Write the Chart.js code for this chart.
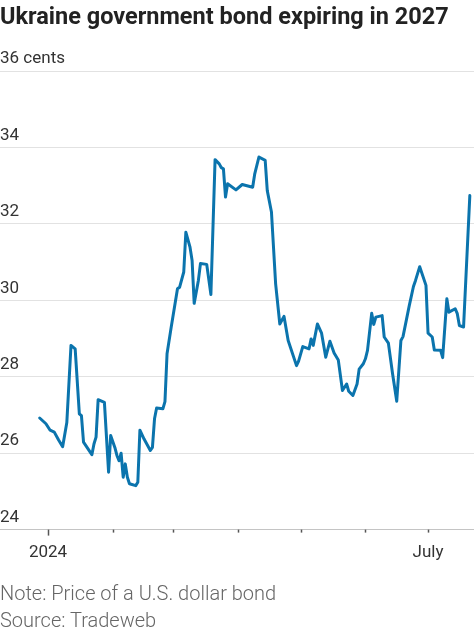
<!DOCTYPE html>
<html>
<head>
<meta charset="utf-8">
<title>Ukraine government bond expiring in 2027</title>
<script src="https://cdn.jsdelivr.net/npm/chart.js@4.4.1/dist/chart.umd.min.js"></script>
<style>
  html, body { margin: 0; padding: 0; background: #fff; }
  body { width: 474px; height: 632px; position: relative; overflow: hidden; font-family: Roboto, "Noto Sans", sans-serif; }
  #title { position: absolute; left: 0; top: 1px; font-size: 23.5px; font-weight: 700; line-height: 30px; color: #222; white-space: nowrap; }
  .foot { position: absolute; left: 0; font-size: 20px; font-weight: 300; line-height: 20px; color: #666; white-space: nowrap; }
  #wrap { position: absolute; left: 0; top: 0; width: 474px; height: 632px; }
</style>
</head>
<body>
<div id="wrap"><canvas id="chartCanvas"></canvas></div>
<div id="title">Ukraine government bond expiring in 2027</div>
<div class="foot" style="top:583px">Note: Price of a U.S. dollar bond</div>
<div class="foot" style="top:610px">Source: Tradeweb</div>
<script>
// Bond price in cents on the dollar
const dates = [
  '2023-12-28', '2023-12-31', '2024-01-02', '2024-01-04', '2024-01-06', '2024-01-08', '2024-01-10', '2024-01-12',
  '2024-01-14', '2024-01-16', '2024-01-17', '2024-01-18', '2024-01-22', '2024-01-23', '2024-01-24', '2024-01-25',
  '2024-01-28', '2024-01-30', '2024-01-31', '2024-02-02', '2024-02-03', '2024-02-04', '2024-02-05', '2024-02-06',
  '2024-02-07', '2024-02-08', '2024-02-09', '2024-02-12', '2024-02-13', '2024-02-14', '2024-02-16', '2024-02-19',
  '2024-02-20', '2024-02-21', '2024-02-22', '2024-02-25', '2024-02-26', '2024-02-27', '2024-02-29', '2024-03-03',
  '2024-03-04', '2024-03-06', '2024-03-07', '2024-03-09', '2024-03-10', '2024-03-11', '2024-03-13', '2024-03-14',
  '2024-03-17', '2024-03-19', '2024-03-21', '2024-03-23', '2024-03-24', '2024-03-25', '2024-03-26', '2024-03-27',
  '2024-03-31', '2024-04-03', '2024-04-08', '2024-04-09', '2024-04-11', '2024-04-14', '2024-04-15', '2024-04-17',
  '2024-04-19', '2024-04-21', '2024-04-23', '2024-04-25', '2024-04-29', '2024-04-30', '2024-05-02', '2024-05-05',
  '2024-05-06', '2024-05-07', '2024-05-09', '2024-05-11', '2024-05-13', '2024-05-15', '2024-05-17', '2024-05-19',
  '2024-05-21', '2024-05-23', '2024-05-24', '2024-05-26', '2024-05-28', '2024-05-29', '2024-05-31', '2024-06-01',
  '2024-06-02', '2024-06-04', '2024-06-05', '2024-06-06', '2024-06-09', '2024-06-10', '2024-06-12', '2024-06-14',
  '2024-06-16', '2024-06-18', '2024-06-19', '2024-06-22', '2024-06-24', '2024-06-25', '2024-06-27', '2024-06-30',
  '2024-07-01', '2024-07-03', '2024-07-04', '2024-07-07', '2024-07-08', '2024-07-10', '2024-07-11', '2024-07-14',
  '2024-07-15', '2024-07-16', '2024-07-18', '2024-07-21'
];
const prices = [
  26.92, 26.77, 26.60, 26.55, 26.35, 26.17, 26.80, 28.82,
  28.73, 27.03, 26.98, 26.29, 25.96, 26.24, 26.42, 27.40,
  27.33, 25.50, 26.46, 26.15, 25.94, 25.80, 26.00, 25.37,
  25.72, 25.37, 25.20, 25.15, 25.24, 26.60, 26.37, 26.07,
  26.15, 26.90, 27.18, 27.16, 27.35, 28.60, 29.30, 30.30,
  30.34, 30.74, 31.78, 31.39, 31.04, 29.92, 30.52, 30.96,
  30.94, 30.15, 33.68, 33.57, 33.47, 33.44, 32.70, 33.05,
  32.89, 33.03, 32.96, 33.31, 33.75, 33.66, 32.87, 32.31,
  30.43, 29.38, 29.58, 28.95, 28.29, 28.41, 28.79, 28.73,
  28.99, 28.82, 29.38, 29.14, 28.51, 28.93, 28.62, 28.44,
  27.64, 27.81, 27.62, 27.51, 27.81, 28.20, 28.34, 28.47,
  28.69, 29.66, 29.37, 29.56, 29.60, 29.04, 28.88, 28.08,
  27.36, 28.95, 29.05, 29.86, 30.36, 30.52, 30.88, 30.39,
  29.14, 29.04, 28.70, 28.69, 28.50, 30.04, 29.69, 29.78,
  29.65, 29.34, 29.30, 32.74
];

// axis ticks
const xTickDates = ['2024-01-01', '2024-02-01', '2024-03-01', '2024-04-01', '2024-05-01', '2024-06-01', '2024-07-01'];
const xTickLabels = ['2024', '', '', '', '', '', 'July'];
const yTicks = [24, 26, 28, 30, 32, 34, 36];
const xRange = ['2023-12-09', '2024-07-23'];

const DAY = 86400000;
const ORIGIN = Date.UTC(2024, 0, 1);

// days since Jan 1 2024
function dayOf(s) {
  const p = s.split('-').map(Number);
  return (Date.UTC(p[0], p[1] - 1, p[2]) - ORIGIN) / DAY;
}

const tickDays = xTickDates.map(dayOf);
const points = dates.map((d, i) => ({ x: dayOf(d), y: prices[i] }));

// short tick marks under the baseline, longer one at the year start
const tickMarks = {
  id: 'tickMarks',
  afterDraw(chart) {
    const ctx = chart.ctx;
    const x = chart.scales.x;
    const bottom = chart.chartArea.bottom;
    ctx.save();
    ctx.strokeStyle = '#555';
    ctx.lineWidth = 1.5;
    tickDays.forEach((d, i) => {
      const px = Math.round(x.getPixelForValue(d)) + 0.5;
      ctx.beginPath();
      ctx.moveTo(px, bottom);
      ctx.lineTo(px, bottom + (i === 0 ? 6 : 3));
      ctx.stroke();
    });
    ctx.restore();
  }
};

const ctx = document.getElementById('chartCanvas').getContext('2d');
const chart = new Chart(ctx, {
  type: 'line',
  data: {
    datasets: [{
      data: points,
      borderColor: '#0b74ad',
      borderWidth: 3,
      borderJoinStyle: 'round',
      borderCapStyle: 'round',
      pointRadius: 0,
      tension: 0,
      fill: false
    }]
  },
  options: {
    responsive: true,
    maintainAspectRatio: false,
    animation: false,
    layout: { padding: { top: 71, bottom: 56, left: 0, right: 0 } },
    plugins: {
      legend: { display: false },
      tooltip: { enabled: false }
    },
    scales: {
      x: {
        type: 'linear',
        min: dayOf(xRange[0]),
        max: dayOf(xRange[1]),
        afterBuildTicks(scale) {
          scale.ticks = tickDays.map(v => ({ value: v }));
        },
        ticks: {
          autoSkip: false,
          maxRotation: 0,
          padding: 13,
          color: '#333',
          font: { family: 'Roboto', size: 17 },
          callback: (v) => {
            const i = tickDays.indexOf(v);
            return i >= 0 ? xTickLabels[i] : '';
          }
        },
        grid: { display: false, drawTicks: false },
        border: { display: false }
      },
      y: {
        min: yTicks[0],
        max: yTicks[yTicks.length - 1],
        afterBuildTicks(scale) {
          scale.ticks = yTicks.map(v => ({ value: v }));
        },
        ticks: {
          mirror: true,
          padding: 0,
          labelOffset: -12,
          color: '#333',
          font: { family: 'Roboto', size: 17 },
          callback: (v) => v === 36 ? '36 cents' : String(v)
        },
        grid: {
          drawTicks: false,
          color: (c) => c.tick && c.tick.value === 24 ? '#c4c4c4' : '#e2e2e2',
          lineWidth: 1
        },
        border: { display: false }
      }
    }
  },
  plugins: [tickMarks]
});
</script>
</body>
</html>
